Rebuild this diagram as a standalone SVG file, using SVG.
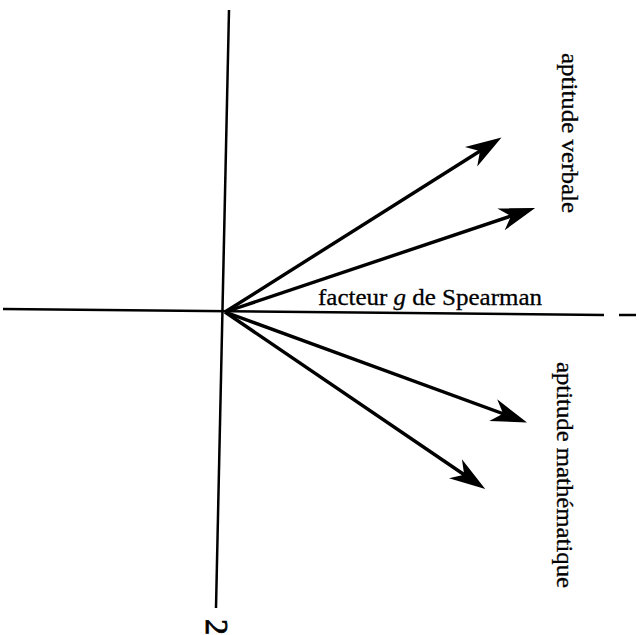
<svg xmlns="http://www.w3.org/2000/svg" width="639" height="635" viewBox="0 0 639 635">
<style>
.axis{stroke:#000;stroke-width:2.5;fill:none;stroke-linecap:butt}
.vec{stroke:#000;stroke-width:3.4;fill:none;marker-end:url(#head)}
.lbl{font-family:"Liberation Serif","Times New Roman",serif;font-size:24px;fill:#000;stroke:#000;stroke-width:0.3}
</style>
<defs>
<marker id="head" markerUnits="userSpaceOnUse" markerWidth="38" markerHeight="28" viewBox="0 0 38 28" refX="21" refY="14" orient="auto">
<path d="M37,14 L1,2.5 L10,12.3 L10,15.7 L1,25.5 Z" fill="#000"/>
</marker>
</defs>
<rect width="639" height="635" fill="#fff"/>
<g id="axes">
<line class="axis" x1="229" y1="10" x2="216" y2="608"/>
<line class="axis" x1="3" y1="309" x2="604" y2="315"/>
<line class="axis" x1="619" y1="315" x2="636" y2="315"/>
</g>
<g id="connectors">
<line class="vec" x1="225" y1="312" x2="488" y2="146"/>
<line class="vec" x1="225" y1="312" x2="520" y2="213"/>
<line class="vec" x1="225" y1="312" x2="512" y2="417"/>
<line class="vec" x1="225" y1="312" x2="472" y2="480"/>
</g>
<g id="label-verbale">
<text class="lbl" transform="translate(562,53) rotate(90)" textLength="160" lengthAdjust="spacingAndGlyphs">aptitude verbale</text>
</g>
<g id="label-math">
<text class="lbl" transform="translate(557,362) rotate(90)" textLength="226" lengthAdjust="spacingAndGlyphs">aptitude mathématique</text>
</g>
<g id="label-g">
<text class="lbl" x="318" y="305" textLength="224" lengthAdjust="spacingAndGlyphs">facteur <tspan font-style="italic">g</tspan> de Spearman</text>
</g>
<g id="label-2">
<text class="lbl" style="font-size:32px;stroke-width:0.8" text-anchor="middle" transform="translate(206,627) rotate(90)">2</text>
</g>
</svg>
